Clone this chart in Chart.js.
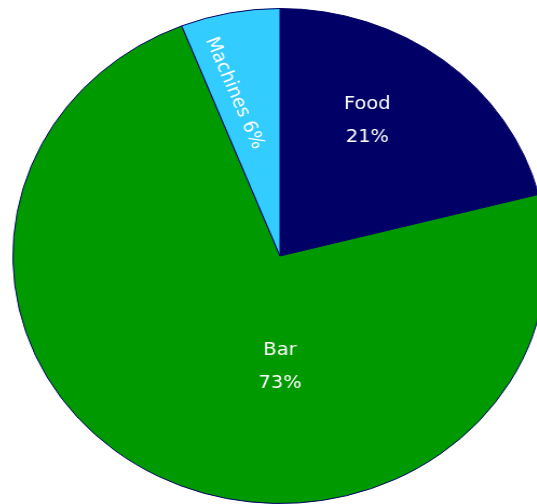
<!DOCTYPE html>
<html>
<head>
<meta charset="utf-8">
<script src="https://cdn.jsdelivr.net/npm/chart.js@4"></script>
<style>
  html, body { margin: 0; padding: 0; background: #fff; }
  body { width: 537px; height: 504px; overflow: hidden; position: relative; }
  #wrap {
    position: absolute; left: 32px; top: 7.5px; width: 496px; height: 496px;
    transform: scaleX(1.079); transform-origin: 50% 50%;
  }
</style>
</head>
<body>
<div id="wrap"><canvas id="pie"></canvas></div>
<script>
// slices, clockwise from 12 o'clock
const categories = ["Food", "Bar", "Machines"];
const shares = [21, 73, 6];
const sliceColors = ["#000066", "#009900", "#33ccff"];

// where each label sits: angle from top (deg), radius fraction, text rotation (deg)
const labelSpots = [
  { angle: 31, r: 0.635, rot: 0, lines: 2 },
  { angle: 180, r: 0.446, rot: 0, lines: 2 },
  { angle: -14.6, r: 0.68, rot: 68, lines: 1 }
];

const sliceLabels = {
  id: "sliceLabels",
  afterDatasetsDraw(chart) {
    const ctx = chart.ctx;
    const meta = chart.getDatasetMeta(0);
    ctx.save();
    ctx.fillStyle = "#ffffff";
    ctx.font = '18px "Comic Sans MS", "DejaVu Sans", sans-serif';
    ctx.textAlign = "center";
    ctx.textBaseline = "middle";
    meta.data.forEach((arc, i) => {
      const spot = labelSpots[i];
      const a = spot.angle * Math.PI / 180;
      const R = arc.outerRadius * spot.r;
      const px = arc.x + R * Math.sin(a);
      const py = arc.y - R * Math.cos(a);
      const pct = shares[i] + "%";
      ctx.save();
      ctx.translate(px, py);
      ctx.rotate(spot.rot * Math.PI / 180);
      if (spot.lines === 2) {
        ctx.fillText(categories[i], 0, -16.5);
        ctx.fillText(pct, 0, 16.5);
      } else {
        ctx.fillText(categories[i] + " " + pct, 0, 0);
      }
      ctx.restore();
    });
    ctx.restore();
  }
};

new Chart(document.getElementById("pie"), {
  type: "pie",
  data: {
    labels: categories,
    datasets: [{
      data: shares,
      backgroundColor: sliceColors,
      borderColor: "#000066",
      borderWidth: 1
    }]
  },
  options: {
    responsive: true,
    maintainAspectRatio: false,
    animation: false,
    layout: { padding: 0 },
    plugins: {
      legend: { display: false },
      tooltip: { enabled: false }
    }
  },
  plugins: [sliceLabels]
});
</script>
</body>
</html>
